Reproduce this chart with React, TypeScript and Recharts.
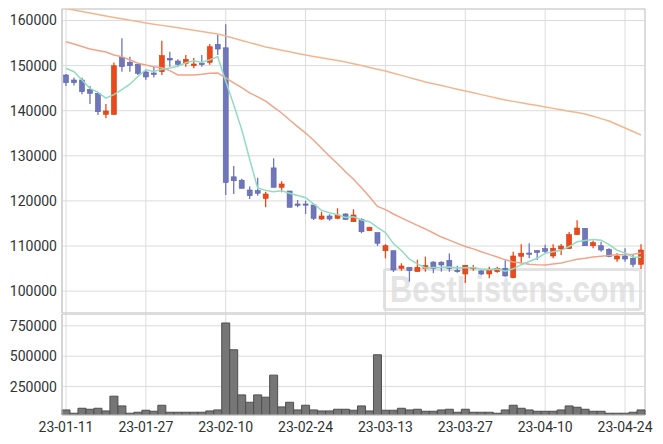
import React from 'react';
import { ComposedChart, BarChart, Bar, Line, XAxis, YAxis, CartesianGrid, ReferenceArea } from 'recharts';

const dates = [
  '23-01-11','23-01-12','23-01-13','23-01-16','23-01-17','23-01-18','23-01-19','23-01-20','23-01-25','23-01-26','23-01-27','23-01-30','23-01-31',
  '23-02-01','23-02-02','23-02-03','23-02-06','23-02-07','23-02-08','23-02-09','23-02-10','23-02-13','23-02-14','23-02-15','23-02-16','23-02-17','23-02-20','23-02-21','23-02-22','23-02-23','23-02-24','23-02-27','23-02-28',
  '23-03-02','23-03-03','23-03-06','23-03-07','23-03-08','23-03-09','23-03-10','23-03-13','23-03-14','23-03-15','23-03-16','23-03-17','23-03-20','23-03-21','23-03-22','23-03-23','23-03-24','23-03-27','23-03-28','23-03-29','23-03-30','23-03-31',
  '23-04-03','23-04-04','23-04-05','23-04-06','23-04-07','23-04-10','23-04-11','23-04-12','23-04-13','23-04-14','23-04-17','23-04-18','23-04-19','23-04-20','23-04-21','23-04-24','23-04-25','23-04-26',
];

const opens = [
  147920,146810,146810,144750,143860,139200,139160,151840,150730,150290,148580,148360,148650,151620,151020,150510,149980,150510,150730,154720,
  153950,125340,124590,122420,122270,120580,127320,123020,122200,119320,119320,119100,115990,116660,116150,117110,115390,115920,113400,112960,
  108960,108960,105070,105290,104320,105070,106440,106420,106800,104610,103800,105050,104470,103800,104320,105070,102980,107730,108440,108980,
  109420,107790,109340,109420,112520,113930,110070,110070,109280,107120,107790,107280,105950,
];
const highs = [
  148140,147370,147320,145480,144080,141490,150690,156050,151980,150510,148950,149690,155520,153080,151400,152350,151700,152350,154790,156790,
  159160,127720,124890,123180,125140,122050,129450,124350,122200,120210,120060,119100,117620,117030,118370,117260,118150,116150,114290,112960,
  110390,108960,106180,105290,106970,107650,106620,106620,108320,105640,105790,105790,104610,105420,105420,106870,108720,110390,110610,108980,
  110300,110390,110450,113100,115690,113930,111180,110960,109500,108390,109500,108020,110390,
];
const lows = [
  145480,145590,143640,141490,139050,138320,139160,148650,148650,147920,146800,147370,147920,149760,149760,149760,149400,149760,150200,152350,
  121310,121530,122800,120430,121160,118590,123020,121920,118590,118590,117110,115780,115770,115630,115920,115770,115390,112820,113400,110010,
  107280,104240,104540,102090,104320,104320,103990,104320,104320,104100,101790,104540,103580,102840,104100,103210,102840,106180,107280,106900,
  108390,107280,108020,109420,112520,110070,109500,108740,107500,106530,106530,105290,104910,
];
const closes = [
  146210,146210,144220,143860,139780,139940,149960,149760,149980,148290,147480,148030,152200,151240,150290,151400,150360,150290,154190,153680,
  124080,124480,122800,121160,121700,121530,123020,123760,118590,119030,119100,116150,116660,115990,116880,115920,116880,113170,114150,110610,
  110070,104690,105570,104540,105290,105640,105070,105790,105070,104320,105730,105220,103800,104690,105070,103360,107790,108390,108300,108570,
  108830,109500,110000,112520,113990,110070,110740,109120,107640,107790,107120,105950,109120,
];
const volumes = [
  57750,30500,71500,63300,71500,49500,170800,90750,30500,38500,55000,46750,96250,38500,38500,38500,38500,38500,49500,57750,
  773000,552750,181500,121000,181500,162500,344000,82500,121000,57750,96250,57750,49500,49500,63300,63300,55000,90750,49500,511500,
  55000,55000,71500,57750,63300,46750,46750,57750,63300,38500,63300,38500,38500,38500,30500,57750,96250,71500,57750,46750,
  46750,46750,57750,90750,79750,63300,46750,46750,30500,30500,30500,38500,57750,
];
const ma5 = [
  149400,148650,146800,144970,144056,142802,143552,144660,145884,147586,149094,148708,149196,149448,149848,150632,151098,150716,151306,151984,
  146520,141344,135846,129240,122844,122334,122042,122234,121720,121186,120700,119326,117906,117386,116956,116320,116466,115768,115400,114146,
  112976,110538,109018,107096,106032,105146,105222,105266,105372,105178,105196,105226,104828,104752,104902,104428,104942,105860,106582,107282,
  108376,108718,109040,109884,110968,111216,111464,111288,110312,109072,108482,107524,107524,
];
const ma20 = [
  155300,154790,154240,153680,153350,153020,152350,151980,151240,150510,150130,149760,149540,148900,147920,147920,147920,148070,148290,148368,
  147262,146176,145105,143970,143066,142145,140798,139498,137929,136466,135047,133453,131676,129913,128243,126469,124795,122939,120937,118783,
  118083,117093,116232,115401,114580,113786,112888,111990,111314,110578,109910,109363,108720,108155,107565,106937,106482,106243,105951,105849,
  105787,106027,106249,106648,107083,107304,107588,107754,107883,108056,108126,108162,108428,
];
const ma120 = [
  162660,162330,162000,161660,161330,161000,160690,160380,160070,159760,159450,159180,158920,158650,158390,158120,157840,157560,157290,157010,
  156560,156070,155580,155100,154610,154120,153770,153410,153060,152700,152350,152040,151730,151420,151110,150800,150400,150000,149600,149200,
  148800,148310,147830,147340,146860,146370,145970,145570,145170,144770,144370,143970,143570,143180,142780,142380,142070,141760,141450,141140,
  140830,140520,140210,139900,139590,139280,138760,138240,137720,136950,136170,135400,134620,
];

const dateTicks = ['23-01-11','23-01-27','23-02-10','23-02-24','23-03-13','23-03-27','23-04-10','23-04-24'];
const priceTicks = [100000,110000,120000,130000,140000,150000,160000];
const volumeTicks = [250000,500000,750000];

const PRICE_MIN = 95150;
const PRICE_MAX = 162550;
const VOL_MIN = 16000;
const VOL_MAX = 847000;

const RED = '#e8491d';
const BLUE = '#7076ba';
const BLUE_EDGE = '#5d63aa';
const RED_EDGE = '#d33e12';

const data = dates.map((d, i) => ({
  date: d,
  open: opens[i],
  high: highs[i],
  low: lows[i],
  close: closes[i],
  range: [lows[i], highs[i]],
  volume: volumes[i],
  ma5: ma5[i],
  ma20: ma20[i],
  ma120: ma120[i],
}));

const FONT = 'Roboto, "Liberation Sans", sans-serif';
const tickStyle = { fontSize: 14, fill: '#333', fontFamily: FONT };

const Candle = (props: any) => {
  const { x, y, width, height, payload } = props;
  if (!payload) return null;
  const { open, close, high, low } = payload;
  const up = close >= open;
  const color = up ? RED : BLUE;
  const edge = up ? RED_EDGE : BLUE_EDGE;
  const top = Math.min(y, y + height);
  const h = Math.abs(height);
  const span = high - low;
  const ratio = span > 0 ? h / span : 0;
  const yOf = (v: number) => top + (high - v) * ratio;
  const cx = x + width / 2;
  const bTop = yOf(Math.max(open, close));
  const bBot = yOf(Math.min(open, close));
  const bw = 5;
  return (
    <g>
      <line x1={cx} x2={cx} y1={top} y2={top + h} stroke={color} strokeWidth={1.3} />
      <rect x={cx - bw / 2} y={bTop} width={bw} height={Math.max(bBot - bTop, 1.2)} fill={color} stroke={edge} strokeWidth={0.6} />
    </g>
  );
};

export default function App() {
  return (
    <div style={{ position: 'absolute', left: 0, top: 0, width: 663, height: 444, background: '#fff', overflow: 'hidden' }}>
      <div
        style={{
          position: 'absolute', left: 383, top: 268, width: 259, height: 43, boxSizing: 'border-box',
          border: '3px solid #e2e2e2', borderRadius: 3, overflow: 'hidden',
        }}
      >
        <span
          style={{
            position: 'absolute', left: '50%', top: 0, display: 'inline-block', whiteSpace: 'nowrap',
            transform: 'translateX(-50%) scaleX(0.83)', transformOrigin: 'center',
            color: '#e4e4e4', fontFamily: '"Liberation Sans", Arial, sans-serif', fontWeight: 'bold',
            fontSize: 37, lineHeight: '37px',
          }}
        >
          BestListens.com
        </span>
      </div>
      <div style={{ position: 'relative' }}>
        <ComposedChart width={663} height={314} data={data} margin={{ top: 9, right: 18, left: 0, bottom: 1 }} barCategoryGap={0}>
          <CartesianGrid stroke="#dcdcdc" />
          <XAxis dataKey="date" ticks={dateTicks} interval={0} hide />
          <YAxis
            domain={[PRICE_MIN, PRICE_MAX]}
            ticks={priceTicks}
            interval={0}
            allowDataOverflow
            width={62}
            tickSize={3}
            tickMargin={2}
            tickLine={false}
            axisLine={{ stroke: '#ccc' }}
            tick={tickStyle}
          />
          <ReferenceArea y1={PRICE_MIN} y2={PRICE_MAX} fill="none" stroke="#ccc" ifOverflow="visible" />
          <Bar dataKey="range" shape={(p: any) => <Candle {...p} />} isAnimationActive={false} />
          <Line dataKey="ma120" stroke="#f2b68e" strokeWidth={1.5} dot={false} activeDot={false} isAnimationActive={false} />
          <Line dataKey="ma20" stroke="#eea58a" strokeWidth={1.5} dot={false} activeDot={false} isAnimationActive={false} />
          <Line dataKey="ma5" stroke="#92dcc2" strokeWidth={1.5} dot={false} activeDot={false} isAnimationActive={false} />
        </ComposedChart>
        <BarChart width={663} height={130} data={data} margin={{ top: 0, right: 18, left: 0, bottom: 0 }} barCategoryGap={0}>
          <CartesianGrid stroke="#dcdcdc" />
          <XAxis
            dataKey="date"
            ticks={dateTicks}
            interval={0}
            height={29}
            tickSize={5}
            tickMargin={2}
            tickLine={false}
            axisLine={{ stroke: '#ccc' }}
            tick={tickStyle}
          />
          <YAxis
            domain={[VOL_MIN, VOL_MAX]}
            ticks={volumeTicks}
            interval={0}
            allowDataOverflow
            width={62}
            tickSize={3}
            tickMargin={2}
            tickLine={false}
            axisLine={{ stroke: '#ccc' }}
            tick={tickStyle}
          />
          <ReferenceArea y1={VOL_MIN} y2={VOL_MAX} fill="none" stroke="#ccc" ifOverflow="visible" />
          <Bar dataKey="volume" fill="#767676" stroke="#4f4f4f" strokeWidth={1} isAnimationActive={false} />
        </BarChart>
      </div>
    </div>
  );
}
